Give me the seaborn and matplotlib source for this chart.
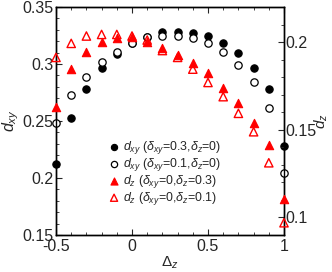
import numpy as np
import pandas as pd
import matplotlib
matplotlib.use("Agg")
import matplotlib.pyplot as plt
import seaborn as sns
from matplotlib.ticker import MultipleLocator

sns.set_style("ticks")
plt.rcParams['font.family'] = ['Liberation Sans', 'DejaVu Sans']
plt.rcParams['mathtext.fontset'] = 'custom'
plt.rcParams['mathtext.rm'] = 'Liberation Sans'
plt.rcParams['mathtext.it'] = 'Liberation Sans:italic'

delta_z = [-0.5, -0.4, -0.3, -0.2, -0.1, 0.0, 0.1, 0.2, 0.3, 0.4, 0.5, 0.6, 0.7, 0.8, 0.9, 1.0]
dxy_03 = [0.2125, 0.2523, 0.2778, 0.2968, 0.3088, 0.3181, 0.3237, 0.3278, 0.3284, 0.3272,
          0.3243, 0.3181, 0.3094, 0.2968, 0.2778, 0.2281]
dxy_01 = [0.2480, 0.2728, 0.2889, 0.3020, 0.3108, 0.3187, 0.3234, 0.3249, 0.3246, 0.3231,
          0.3181, 0.3103, 0.2991, 0.2845, 0.2611, 0.2041]
dz_03 = [0.1632, 0.1846, 0.1942, 0.1999, 0.2021, 0.2031, 0.2002, 0.1964, 0.1926, 0.1879,
         0.1822, 0.1740, 0.1651, 0.1540, 0.1411, 0.1104]
dz_01 = [0.1913, 0.1993, 0.2035, 0.2044, 0.2044, 0.2035, 0.2012, 0.1952, 0.1913, 0.1846,
         0.1770, 0.1689, 0.1594, 0.1489, 0.1312, 0.0970]

labels = [r'$d_{xy}$ ($\delta_{xy}$=0.3,$\delta_z$=0)',
          r'$d_{xy}$ ($\delta_{xy}$=0.1,$\delta_z$=0)',
          r'$d_z$ ($\delta_{xy}$=0,$\delta_z$=0.3)',
          r'$d_z$ ($\delta_{xy}$=0,$\delta_z$=0.1)']

fig = plt.figure(figsize=(3.32, 2.72), dpi=100)
ax = fig.add_axes([0.1687, 0.136, 0.6867, 0.838])
ax2 = ax.twinx()

sns.scatterplot(x=delta_z, y=dxy_03, ax=ax, marker='o', s=28, color='black',
                edgecolor='black', linewidth=0.8, legend=False, clip_on=False, zorder=3)
sns.scatterplot(x=delta_z, y=dxy_01, ax=ax, marker='o', s=28, facecolor='white',
                edgecolor='black', linewidth=0.9, legend=False, clip_on=False, zorder=3)
sns.scatterplot(x=delta_z, y=dz_03, ax=ax2, marker='^', s=36, color='red',
                edgecolor='red', linewidth=0.8, legend=False, clip_on=False, zorder=3)
sns.scatterplot(x=delta_z, y=dz_01, ax=ax2, marker='^', s=36, facecolor='none',
                edgecolor='red', linewidth=1.0, legend=False, clip_on=False, zorder=3)

ax.set_xlim(-0.5, 1.0)
ax.set_ylim(0.15, 0.35)
ax2.set_ylim(0.09, 0.22)

ax.xaxis.set_major_locator(MultipleLocator(0.5))
ax.xaxis.set_minor_locator(MultipleLocator(0.1))
ax.yaxis.set_major_locator(MultipleLocator(0.05))
ax.yaxis.set_minor_locator(MultipleLocator(0.01))
ax2.yaxis.set_major_locator(MultipleLocator(0.05))
ax2.yaxis.set_minor_locator(MultipleLocator(0.01))

ax.set_xticks([-0.5, 0, 0.5, 1])
ax.set_xticklabels(['-0.5', '0', '0.5', '1'])
ax.set_yticks([0.15, 0.2, 0.25, 0.3, 0.35])
ax.set_yticklabels(['0.15', '0.2', '0.25', '0.3', '0.35'])
ax2.set_yticks([0.1, 0.15, 0.2])
ax2.set_yticklabels(['0.1', '0.15', '0.2'])

ax.tick_params(axis='both', which='major', direction='in', length=4, width=0.8,
               labelsize=11.5, top=True, right=False, pad=2)
ax.tick_params(axis='x', which='major', pad=3)
ax.tick_params(axis='both', which='minor', direction='in', length=2, width=0.6,
               top=True, right=False)
ax2.tick_params(axis='y', which='major', direction='in', length=4, width=0.8,
                labelsize=11.5, pad=1)
ax2.tick_params(axis='y', which='minor', direction='in', length=2, width=0.6)

for a in (ax, ax2):
    for sp in a.spines.values():
        sp.set_visible(True)
        sp.set_linewidth(1.0)
        sp.set_color('black')

ax.set_xlabel(r'$\Delta_z$', fontsize=11, labelpad=0)
ax.set_ylabel(r'$d_{xy}$', fontsize=11.5, labelpad=1)
ax2.set_ylabel(r'$d_z$', fontsize=11, labelpad=-3, rotation=90)

handles = ax.collections + ax2.collections
leg = ax2.legend(handles=handles, labels=labels, loc='lower left',
                 bbox_to_anchor=(0.195, 0.09), frameon=False, fontsize=8.9,
                 handletextpad=0.25, labelspacing=0.0, handlelength=1.0,
                 borderpad=0.1, markerscale=0.85)

fig.savefig('out.png', dpi=100)
